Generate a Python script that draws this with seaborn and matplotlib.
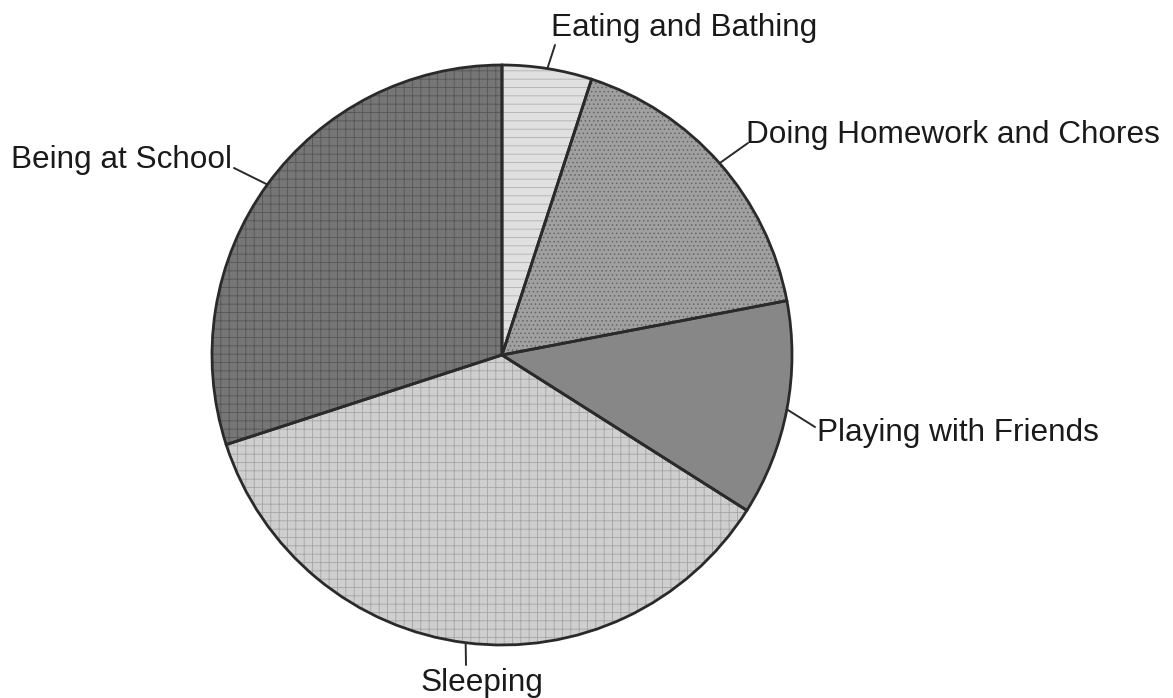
import numpy as np
import matplotlib
matplotlib.use('Agg')
import matplotlib.pyplot as plt
import seaborn as sns

activities = ['Eating and Bathing', 'Doing Homework and Chores', 'Playing with Friends',
              'Sleeping', 'Being at School']
percents = [5, 17, 12, 36, 30]

face_colors = ['#e0e0e0', '#a0a0a0', '#878787', '#cfcfcf', '#767676']
hatch_colors = ['#b0b0b0', '#666666', '#878787', '#a4a4a4', '#555555']
hatches = ['--', '....', '', '++', '++']

# label layout in pixels: (text x, text y, line end x, line end y, ha)
label_px = [
    (551, 28, 555, 45, 'left'),
    (746, 135, 748, 143, 'left'),
    (817, 433, 815, 427, 'left'),
    (482, 683, 466, 665, 'center'),
    (232, 160, 234, 168, 'right'),
]

W, H = 1173, 698
CX, CY, R = 502, 355, 290


def to_data(x, y):
    return (x - CX) / R, (CY - y) / R


def main():
    sns.set_theme(style='white')
    plt.rcParams['font.family'] = ['Liberation Sans', 'DejaVu Sans']
    plt.rcParams['hatch.linewidth'] = 0.6

    fig = plt.figure(figsize=(W / 100, H / 100), dpi=100)
    ax = fig.add_axes([0, 0, 1, 1])

    # filled wedges with texture
    wedges, _ = ax.pie(percents, startangle=90, counterclock=False,
                       colors=face_colors, radius=1,
                       wedgeprops=dict(linewidth=0))
    for w, hc, h in zip(wedges, hatch_colors, hatches):
        w.set_hatch(h)
        w.set_edgecolor(hc)
        w.set_linewidth(0)

    # outlines
    outl, _ = ax.pie(percents, startangle=90, counterclock=False, radius=1,
                     wedgeprops=dict(fill=False, edgecolor='#2a2a2a', linewidth=2.0))

    for w, name, (tx, ty, lx, ly, ha) in zip(outl, activities, label_px):
        mid = np.deg2rad((w.theta1 + w.theta2) / 2)
        x0, y0 = np.cos(mid), np.sin(mid)
        x1, y1 = to_data(lx, ly)
        ax.plot([x0, x1], [y0, y1], color='#2a2a2a', lw=1.4)
        xt, yt = to_data(tx, ty)
        ax.text(xt, yt, name, ha=ha, va='center', fontsize=22.7, color='#1a1a1a')

    ax.set_aspect('auto')
    ax.set_xlim(-CX / R, (W - CX) / R)
    ax.set_ylim(-(H - CY) / R, CY / R)
    ax.axis('off')

    fig.savefig('out.png', dpi=100, facecolor='white')
    plt.close(fig)


if __name__ == '__main__':
    main()
